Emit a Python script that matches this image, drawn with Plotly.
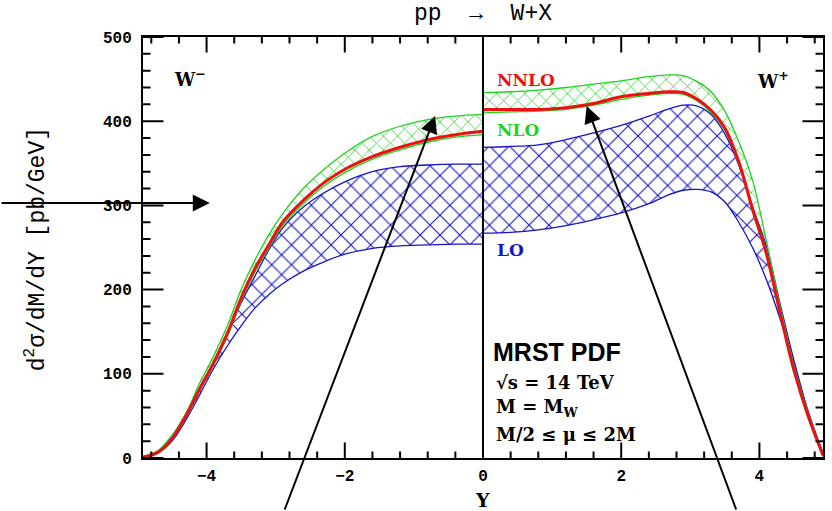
import numpy as np
import plotly.graph_objects as go

# Rapidity grid, W- side (plotted at negative Y)
Y_MINUS = [-4.92, -4.7, -4.5, -4.3, -4.1, -3.9, -3.7, -3.5, -3.3, -3.1,
           -2.9, -2.6, -2.3, -2.0, -1.6, -1.2, -0.8, -0.4, 0.0]
LO_LO_M = [1, 6, 20, 45, 75, 106, 133, 157, 178, 194, 207, 222, 233, 242, 249, 252, 253, 254, 254]
LO_HI_M = [2, 8, 25, 52, 84, 113, 146, 184, 216, 247, 273, 298, 315, 328, 340, 346, 348, 349, 349]
NLO_LO_M = [1, 6, 22, 48, 80, 110, 144, 186, 221, 249, 276, 302, 323, 339, 355, 366, 375, 381, 384]
NLO_HI_M = [2, 9, 27, 53, 89, 121, 157, 200, 235, 265, 290, 320, 343, 362, 382, 394, 402, 406, 408]
NNLO_M = [1, 7, 23, 50, 82, 113, 148, 190, 225, 253, 280, 306, 327, 343, 358, 369, 378, 384, 388]

# Rapidity grid, W+ side (plotted at positive Y)
Y_PLUS = [0.0, 0.4, 0.8, 1.2, 1.6, 2.0, 2.4, 2.7, 2.9, 3.1,
          3.3, 3.5, 3.7, 3.9, 4.1, 4.3, 4.5, 4.7, 4.92]
LO_LO_P = [267, 268, 271, 276, 283, 291, 302, 313, 318, 319, 316, 304, 280, 250, 212, 165, 112, 55, 5]
LO_HI_P = [369, 370, 372, 378, 386, 395, 406, 415, 419, 418, 408, 385, 348, 298, 252, 183, 116, 57, 6]
NLO_LO_P = [410, 411, 412, 414, 419, 426, 431, 433, 432, 424, 410, 389, 349, 292, 240, 170, 102, 50, 3]
NLO_HI_P = [434, 435, 437, 440, 444, 448, 453, 455, 454, 447, 435, 412, 376, 330, 258, 180, 110, 55, 5]
NNLO_P = [414, 414, 414, 416, 421, 429, 433, 435, 434, 426, 413, 392, 352, 296, 243, 172, 104, 51, 3]

X_RANGE = [-4.92, 4.92]
Y_RANGE = [0, 500]
X_MAJOR, X_MINOR = 2.0, 0.4
Y_MAJOR, Y_MINOR = 100, 20

BLUE = "#1414c8"
GREEN = "#1ed21e"
RED = "#ee1010"
MONO = "Liberation Mono"
SERIF = "DejaVu Serif"

PLOT_W, PLOT_H = 682.0, 421.0          # plot-area size in pixels

fig = go.Figure()


def band(x, lo, hi, color, cell):
    fig.add_trace(go.Scatter(x=x, y=lo, mode="lines", line=dict(color=color, width=1.3, shape="spline"),
                             hoverinfo="skip", showlegend=False))
    fig.add_trace(go.Scatter(x=x, y=hi, mode="lines", line=dict(color=color, width=1.3, shape="spline"),
                             fill="tonexty", fillcolor="rgba(0,0,0,0)",
                             fillpattern=dict(shape="x", fgcolor=color, fgopacity=1,
                                              bgcolor="rgba(255,255,255,0)", size=cell, solidity=0.15),
                             hoverinfo="skip", showlegend=False))


for ys, lo, hi in [(Y_MINUS, LO_LO_M, LO_HI_M), (Y_PLUS, LO_LO_P, LO_HI_P)]:
    band(ys, lo, hi, BLUE, 14)
for ys, lo, hi in [(Y_MINUS, NLO_LO_M, NLO_HI_M), (Y_PLUS, NLO_LO_P, NLO_HI_P)]:
    band(ys, lo, hi, GREEN, 10)
for ys, vals in [(Y_MINUS, NNLO_M), (Y_PLUS, NNLO_P)]:
    fig.add_trace(go.Scatter(x=ys, y=vals, mode="lines", line=dict(color=RED, width=3, shape="spline"),
                             hoverinfo="skip", showlegend=False))

# divider at Y = 0 between the W- and W+ halves
fig.add_shape(type="line", x0=0, x1=0, y0=Y_RANGE[0], y1=Y_RANGE[1], xref="x", yref="y",
              line=dict(color="black", width=2))


# inward tick marks on all four sides (major + minor), as headless annotation arrows
def tick_values(lo, hi, step):
    start = np.ceil(lo / step - 1e-9) * step
    return [float(round(v, 6)) for v in np.arange(start, hi + 1e-9, step)]


def tick(x, y, dx, dy):
    fig.add_annotation(x=x, y=y, xref="x", yref="y", ax=dx, ay=dy, axref="pixel", ayref="pixel",
                       text="", showarrow=True, arrowhead=0, arrowwidth=2, arrowcolor="black",
                       standoff=0, startstandoff=0)


for v in tick_values(X_RANGE[0], X_RANGE[1], X_MINOR):
    L = 17 if abs(v / X_MAJOR - round(v / X_MAJOR)) < 1e-6 else 8
    tick(v, Y_RANGE[0], 0, -L)
    tick(v, Y_RANGE[1], 0, L)
for v in tick_values(Y_RANGE[0], Y_RANGE[1], Y_MINOR):
    L = 22 if abs(v % Y_MAJOR) < 1e-6 else 9
    tick(X_RANGE[0], v, L, 0)
    tick(X_RANGE[1], v, -L, 0)

tick_font = dict(family=MONO, size=16, color="black", weight="bold")
fig.update_layout(
    xaxis=dict(range=X_RANGE, tickmode="linear", tick0=0, dtick=X_MAJOR, ticks="",
               ticklabelstandoff=2, showline=True, linecolor="black", linewidth=2,
               mirror=True, showgrid=False, zeroline=False, tickfont=tick_font),
    yaxis=dict(range=Y_RANGE, tickmode="linear", tick0=0, dtick=Y_MAJOR, ticks="",
               ticklabelstandoff=6, showline=True, linecolor="black", linewidth=2,
               mirror=True, showgrid=False, zeroline=False, tickfont=tick_font),
)


def px(xp):
    return (xp - 143) / PLOT_W


def py(yp):
    return (458 - yp) / PLOT_H


notes = [
    dict(text="pp  \u2192  W+X", x=px(484), y=py(14), font=dict(family=MONO, size=23), xanchor="center"),
    dict(text="d<sup>2</sup>\u03c3/dM/dY [pb/GeV]", x=px(36), y=py(249), textangle=-90,
         font=dict(family=MONO, size=23), xanchor="center"),
    dict(text="<b>Y</b>", x=px(483), y=py(500), font=dict(family=SERIF, size=19), xanchor="center"),
    dict(text="<b>W<sup>\u2212</sup></b>", x=px(190), y=py(78), font=dict(family=SERIF, size=18), xanchor="center"),
    dict(text="<b>W<sup>+</sup></b>", x=px(775), y=py(80), font=dict(family=SERIF, size=18), xanchor="center"),
    dict(text="<b>NNLO</b>", x=px(496), y=py(80), font=dict(family=SERIF, size=17, color=RED), xanchor="left"),
    dict(text="<b>NLO</b>", x=px(496), y=py(130), font=dict(family=SERIF, size=17, color=GREEN), xanchor="left"),
    dict(text="<b>LO</b>", x=px(496), y=py(250), font=dict(family=SERIF, size=17, color=BLUE), xanchor="left"),
    dict(text="<b>MRST PDF</b>", x=px(492), y=py(352), font=dict(family="Liberation Sans", size=25),
         xanchor="left"),
    dict(text="<b>\u221as = 14 TeV</b>", x=px(495), y=py(382), font=dict(family=SERIF, size=18), xanchor="left"),
    dict(text="<b>M = M<sub>W</sub></b>", x=px(495), y=py(408), font=dict(family=SERIF, size=18), xanchor="left"),
    dict(text="<b>M/2 \u2264 \u03bc \u2264 2M</b>", x=px(495), y=py(434), font=dict(family=SERIF, size=18),
         xanchor="left"),
]
for n in notes:
    n.update(xref="paper", yref="paper", showarrow=False, yanchor="middle")
    n["font"].setdefault("color", "black")
    fig.add_annotation(**n)

# pointer arrows (tail -> head, in pixel positions)
arrows = [((0, 203), (210, 203)), ((285, 512), (436, 116)), ((738, 512), (588, 106))]
for (ax_, ay_), (hx, hy) in arrows:
    fig.add_annotation(x=px(hx), y=py(hy), ax=ax_ - hx, ay=ay_ - hy, xref="paper", yref="paper",
                       axref="pixel", ayref="pixel", showarrow=True, arrowhead=2, arrowsize=1.7,
                       arrowwidth=2, arrowcolor="black", text="")

fig.update_layout(width=832, height=511, margin=dict(l=143, r=7, t=37, b=53),
                  paper_bgcolor="white", plot_bgcolor="white", showlegend=False)

fig.write_html("out.html")
